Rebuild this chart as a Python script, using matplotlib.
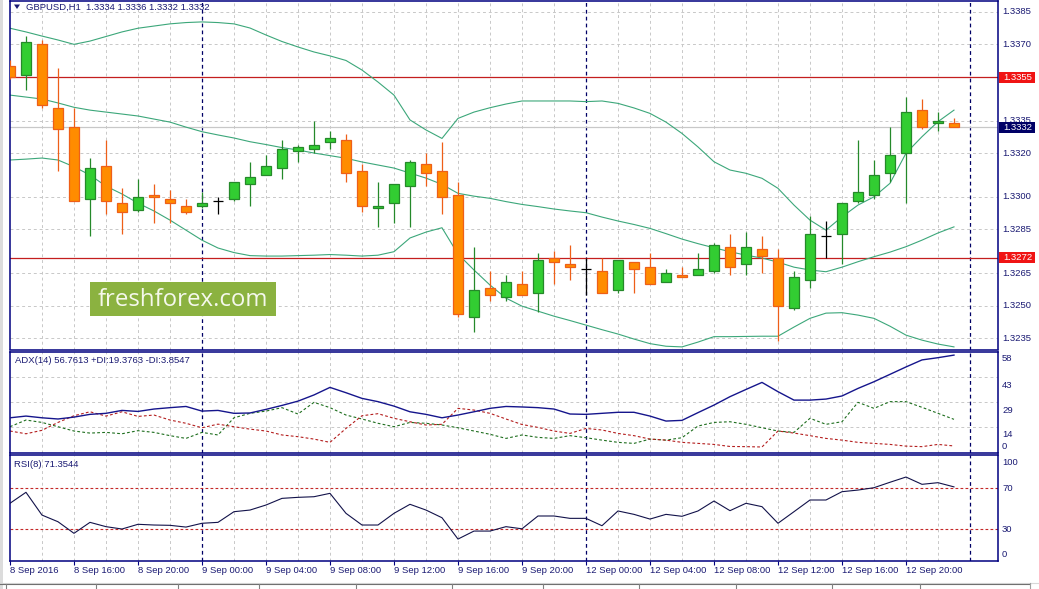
import numpy as np
import matplotlib
matplotlib.use("Agg")
import matplotlib.pyplot as plt
from matplotlib.patches import Rectangle, Polygon
from matplotlib.transforms import IdentityTransform

W, H = 1039, 589

# GBPUSD H1, bars from 8 Sep 12:00 to 12 Sep 23:00
opens = [1.3360, 1.3356, 1.3370, 1.3341, 1.3332, 1.3299, 1.3314, 1.3297, 1.3294, 1.3301,
         1.3299, 1.3296, 1.3296, 1.3298, 1.3299, 1.3306, 1.3310, 1.3313, 1.3321, 1.3322,
         1.3325, 1.3326, 1.3312, 1.3295, 1.3297, 1.3305, 1.3315, 1.3312, 1.3301, 1.3245,
         1.3258, 1.3254, 1.3260, 1.3256, 1.3272, 1.3269, 1.3267, 1.3266, 1.3257, 1.3270,
         1.3268, 1.3261, 1.3264, 1.3264, 1.3266, 1.3277, 1.3269, 1.3276, 1.3272, 1.3249,
         1.3262, 1.3282, 1.3283, 1.3298, 1.3301, 1.3311, 1.3320, 1.3340, 1.3334, 1.3334]
highs = [1.3363, 1.3374, 1.3372, 1.3359, 1.3341, 1.3318, 1.3326, 1.3304, 1.3308, 1.3306,
         1.3303, 1.3299, 1.3302, 1.3300, 1.3307, 1.3316, 1.3319, 1.3326, 1.3324, 1.3335,
         1.3330, 1.3329, 1.3315, 1.3307, 1.3306, 1.3317, 1.3320, 1.3325, 1.3307, 1.3277,
         1.3266, 1.3264, 1.3266, 1.3274, 1.3275, 1.3278, 1.3272, 1.3272, 1.3271, 1.3270,
         1.3274, 1.3267, 1.3268, 1.3274, 1.3279, 1.3283, 1.3284, 1.3282, 1.3276, 1.3266,
         1.3291, 1.3289, 1.3297, 1.3326, 1.3317, 1.3332, 1.3346, 1.3345, 1.3339, 1.3336]
lows = [1.3354, 1.3349, 1.3341, 1.3312, 1.3298, 1.3282, 1.3292, 1.3283, 1.3293, 1.3288,
        1.3288, 1.3292, 1.3295, 1.3292, 1.3298, 1.3296, 1.3310, 1.3308, 1.3316, 1.3320,
        1.3322, 1.3307, 1.3293, 1.3286, 1.3288, 1.3286, 1.3305, 1.3292, 1.3245, 1.3238,
        1.3252, 1.3252, 1.3255, 1.3247, 1.3260, 1.3262, 1.3255, 1.3256, 1.3256, 1.3256,
        1.3260, 1.3261, 1.3263, 1.3264, 1.3265, 1.3264, 1.3264, 1.3265, 1.3234, 1.3248,
        1.3258, 1.3272, 1.3269, 1.3297, 1.3299, 1.3307, 1.3297, 1.3331, 1.3330, 1.3332]
closes = [1.3355, 1.3371, 1.3342, 1.3331, 1.3298, 1.3313, 1.3298, 1.3293, 1.3300, 1.3300,
          1.3297, 1.3293, 1.3297, 1.3298, 1.3307, 1.3309, 1.3314, 1.3322, 1.3323, 1.3324,
          1.3327, 1.3311, 1.3296, 1.3296, 1.3306, 1.3316, 1.3311, 1.3300, 1.3246, 1.3257,
          1.3255, 1.3261, 1.3255, 1.3271, 1.3270, 1.3268, 1.3267, 1.3256, 1.3271, 1.3267,
          1.3260, 1.3265, 1.3263, 1.3267, 1.3278, 1.3268, 1.3277, 1.3273, 1.3250, 1.3263,
          1.3283, 1.3282, 1.3297, 1.3302, 1.3310, 1.3319, 1.3339, 1.3332, 1.3335, 1.3332]

bb_upper = [1.33774, 1.33757, 1.33738, 1.33720, 1.33700, 1.33715, 1.33736, 1.33757, 1.33774, 1.33784,
            1.33794, 1.33800, 1.33803, 1.33800, 1.33794, 1.33775, 1.33743, 1.33713, 1.33688, 1.33665,
            1.33647, 1.33626, 1.33582, 1.33527, 1.33467, 1.33353, 1.33307, 1.33268, 1.33360, 1.33389,
            1.33409, 1.33426, 1.33440, 1.33440, 1.33440, 1.33440, 1.33437, 1.33440, 1.33429, 1.33408,
            1.33383, 1.33343, 1.33291, 1.33229, 1.33161, 1.33123, 1.33108, 1.33085, 1.33039, 1.32962,
            1.32893, 1.32847, 1.32908, 1.32962, 1.33000, 1.33062, 1.33200, 1.33276, 1.33345, 1.33398]
bb_mid = [1.33467, 1.33458, 1.33449, 1.33431, 1.33411, 1.33398, 1.33389, 1.33380, 1.33371, 1.33357,
          1.33343, 1.33320, 1.33299, 1.33284, 1.33270, 1.33253, 1.33240, 1.33226, 1.33215, 1.33201,
          1.33189, 1.33177, 1.33160, 1.33146, 1.33132, 1.33109, 1.33086, 1.33057, 1.33016, 1.33003,
          1.32993, 1.32978, 1.32965, 1.32955, 1.32944, 1.32935, 1.32927, 1.32907, 1.32889, 1.32873,
          1.32855, 1.32831, 1.32806, 1.32785, 1.32766, 1.32748, 1.32732, 1.32719, 1.32700, 1.32677,
          1.32664, 1.32656, 1.32677, 1.32702, 1.32725, 1.32746, 1.32771, 1.32801, 1.32834, 1.32862]
bb_lower = [1.33169, 1.33173, 1.33178, 1.33169, 1.33138, 1.33100, 1.33049, 1.33013, 1.32971, 1.32935,
            1.32893, 1.32847, 1.32801, 1.32765, 1.32744, 1.32730, 1.32728, 1.32728, 1.32730, 1.32732,
            1.32735, 1.32732, 1.32728, 1.32732, 1.32748, 1.32811, 1.32838, 1.32858, 1.32737, 1.32664,
            1.32595, 1.32535, 1.32498, 1.32475, 1.32452, 1.32432, 1.32411, 1.32390, 1.32370, 1.32347,
            1.32326, 1.32314, 1.32311, 1.32333, 1.32358, 1.32358, 1.32359, 1.32360, 1.32360, 1.32402,
            1.32442, 1.32466, 1.32468, 1.32457, 1.32442, 1.32406, 1.32365, 1.32342, 1.32324, 1.32311]

adx = [20.3, 21.3, 20.3, 19.6, 20.7, 22.3, 22.9, 24.6, 24.0, 25.4,
       26.2, 26.9, 24.2, 24.6, 22.9, 23.1, 25.2, 27.5, 30.0, 33.6,
       38.0, 34.9, 31.6, 29.7, 27.1, 23.8, 22.3, 20.3, 21.9, 23.8,
       25.8, 26.9, 26.6, 26.2, 25.4, 22.5, 22.3, 22.9, 23.5, 23.5,
       21.3, 18.4, 18.8, 23.3, 27.7, 32.6, 36.8, 40.9, 35.5, 30.6,
       30.6, 31.2, 33.0, 37.4, 41.3, 45.6, 49.9, 54.0, 55.3, 56.8]
plus_di = [15.1, 19.0, 17.6, 15.1, 12.6, 11.4, 11.8, 11.0, 12.8, 11.8,
           9.9, 8.3, 11.8, 10.3, 20.3, 22.9, 24.2, 26.2, 22.5, 29.3,
           26.2, 21.9, 19.6, 17.1, 15.1, 17.6, 17.1, 16.1, 14.5, 12.6,
           10.7, 8.3, 10.3, 8.9, 8.3, 9.9, 8.7, 7.3, 6.0, 5.4,
           7.9, 7.3, 8.7, 15.5, 17.6, 18.0, 16.5, 14.5, 12.6, 11.8,
           20.0, 16.5, 18.0, 29.3, 25.8, 29.7, 29.7, 26.4, 22.9, 19.4]
minus_di = [12.6, 11.0, 13.0, 17.6, 21.5, 23.8, 21.3, 23.8, 21.1, 21.9,
            19.0, 17.1, 14.5, 16.6, 15.1, 13.7, 12.6, 10.3, 9.3, 7.9,
            6.0, 14.1, 21.5, 22.7, 20.0, 18.0, 16.1, 16.5, 25.8, 24.8,
            22.9, 19.6, 16.4, 14.7, 12.6, 11.2, 14.1, 13.2, 11.2, 9.9,
            7.9, 7.3, 6.0, 5.4, 4.8, 3.6, 3.5, 3.3, 12.6, 11.4,
            9.9, 8.3, 7.3, 6.0, 5.4, 4.8, 3.8, 3.5, 4.8, 3.9]
rsi = [55.4, 66.1, 43.9, 37.4, 26.1, 36.8, 32.6, 30.3, 34.9, 34.2,
       33.9, 32.2, 35.9, 36.8, 47.2, 48.8, 53.7, 60.2, 61.2, 61.8,
       65.1, 45.6, 34.2, 34.2, 45.6, 54.4, 48.8, 41.3, 20.5, 28.3,
       28.3, 32.6, 30.5, 43.0, 43.0, 40.7, 40.7, 33.5, 47.9, 44.6,
       40.0, 44.6, 42.7, 47.9, 57.6, 48.2, 55.4, 52.1, 35.9, 47.2,
       58.6, 58.6, 66.7, 68.3, 70.6, 75.9, 81.0, 73.9, 75.5, 71.4]

price_ticks = [1.3385, 1.3370, 1.3355, 1.3335, 1.3320, 1.3300, 1.3285, 1.3265, 1.3250, 1.3235]
level_lines = [1.3355, 1.3272]
bid = 1.3332
adx_ticks = [58, 43, 29, 14, 0]
adx_grid = [14.7, 29.3, 43.9]
rsi_ticks = [100, 70, 30, 0]
rsi_levels = [70, 30]
separators = [12, 36, 60]
time_pos = list(range(0, 60, 4))
time_labels = ["8 Sep 2016", "8 Sep 16:00", "8 Sep 20:00", "9 Sep 00:00", "9 Sep 04:00",
               "9 Sep 08:00", "9 Sep 12:00", "9 Sep 16:00", "9 Sep 20:00", "12 Sep 00:00",
               "12 Sep 04:00", "12 Sep 08:00", "12 Sep 12:00", "12 Sep 16:00", "12 Sep 20:00"]

plt.rcParams['font.family'] = ['Liberation Sans', 'DejaVu Sans']
FS = 6.8
TXT = '#1A1A73'
NAVY = '#000080'
GRID = '#C8C8C8'
BULL, BULL_EDGE = '#32CD32', '#25892A'
BEAR, BEAR_EDGE = '#FF8C00', '#EE5F18'
BAND = '#3CA77A'

fig = plt.figure(figsize=(W / 100, H / 100), dpi=100)
fig.patch.set_facecolor('white')


def rect(x0, y0, x1, y1):
    return [x0 / W, 1 - y1 / H, (x1 - x0) / W, (y1 - y0) / H]


ax = fig.add_axes(rect(9.5, 1, 997.5, 349.5))
ax_adx = fig.add_axes(rect(9.5, 351.5, 997.5, 453))
ax_rsi = fig.add_axes(rect(9.5, 455, 997.5, 561))

for a in (ax, ax_adx, ax_rsi):
    a.set_xlim(-0.03, 61.72)
    a.set_yticks([])
    a.set_xticks([])
    for s in a.spines.values():
        s.set_color(NAVY)
        s.set_linewidth(1.1)
    for i in range(2, 61, 2):
        if i not in separators:
            a.axvline(i, color=GRID, lw=0.7, ls=(0, (3, 3)), zorder=0)
    for i in separators:
        a.axvline(i, color='#000066', lw=0.9, ls=(0, (3, 2.5)), zorder=1)

ax.set_ylim(1.32299, 1.33899)
ax_adx.set_ylim(-0.2, 58.9)
ax_rsi.set_ylim(-0.9, 102.5)

# main price panel
for v in price_ticks:
    ax.axhline(v, color=GRID, lw=0.7, ls=(0, (3, 3)), zorder=0)
ax.axhline(bid, color='#C8C8C8', lw=0.9, zorder=1)
for v in level_lines:
    ax.axhline(v, color='#C41E1E', lw=0.9, zorder=1.5)

x = np.arange(len(opens))
ax.plot(x, bb_upper, color=BAND, lw=0.8, zorder=2)
ax.plot(x, bb_mid, color=BAND, lw=0.8, zorder=2)
ax.plot(x, bb_lower, color=BAND, lw=0.8, zorder=2)

o, hi, lo, c = map(np.array, (opens, highs, lows, closes))
up = c > o
dn = c < o
dj = c == o
ax.vlines(x[up], lo[up], hi[up], color=BULL_EDGE, lw=0.9, zorder=3)
ax.vlines(x[dn], lo[dn], hi[dn], color=BEAR_EDGE, lw=0.9, zorder=3)
ax.vlines(x[dj], lo[dj], hi[dj], color='black', lw=0.9, zorder=3)
ax.bar(x[up], (c - o)[up], bottom=o[up], width=0.64, color=BULL,
       edgecolor=BULL_EDGE, lw=0.9, zorder=4)
ax.bar(x[dn], (o - c)[dn], bottom=c[dn], width=0.64, color=BEAR,
       edgecolor=BEAR_EDGE, lw=0.9, zorder=4)
ax.hlines(c[dj], x[dj] - 0.33, x[dj] + 0.33, color='black', lw=0.9, zorder=4)


def side_label(a, v, s, dy=0):
    a.annotate(s, xy=(1, v), xycoords=('axes fraction', 'data'),
               xytext=(4.5, dy), textcoords='offset pixels', ha='left', va='center',
               fontsize=FS, color=TXT, annotation_clip=False)


for v in price_ticks:
    side_label(ax, v, f'{v:.4f}')


def price_box(v, fc):
    yd = ax.transData.transform((0, v))[1]
    fig.add_artist(Rectangle((999, yd - 5.5), 36, 11, transform=IdentityTransform(),
                             fc=fc, ec='none', zorder=5))
    fig.text(1003, yd, f'{v:.4f}', transform=IdentityTransform(), ha='left',
             va='center', fontsize=FS, color='white', zorder=6)


for v in level_lines:
    price_box(v, '#F01414')
price_box(bid, '#000066')

# ADX panel
for v in adx_grid:
    ax_adx.axhline(v, color=GRID, lw=0.7, ls=(0, (3, 3)), zorder=0)
ax_adx.plot(x, adx, color='#15158C', lw=1.0, zorder=3)
ax_adx.plot(x, plus_di, color='#1E6E1E', lw=0.8, ls=(0, (2.5, 2)), zorder=2)
ax_adx.plot(x, minus_di, color='#B41E1E', lw=0.8, ls=(0, (2.5, 2)), zorder=2)
adx_dy = {58: -5, 43: -7, 29: -8, 14: -6, 0: 6}
for v in adx_ticks:
    side_label(ax_adx, v, str(v), adx_dy[v])

# RSI panel
for v in rsi_levels:
    ax_rsi.axhline(v, color='#C42828', lw=0.8, ls=(0, (2.5, 2)), zorder=1)
ax_rsi.plot(x, rsi, color='#12124A', lw=0.8, zorder=3)
rsi_dy = {100: -4.5, 70: 0, 30: 0, 0: 5.5}
for v in rsi_ticks:
    side_label(ax_rsi, v, str(v), rsi_dy[v])

ax_rsi.set_xticks(time_pos)
ax_rsi.set_xticklabels(time_labels)
ax_rsi.tick_params(axis='x', length=2.6, width=0.8, color=NAVY, pad=1.3,
                   labelsize=FS, labelcolor=TXT)
for lbl in ax_rsi.get_xticklabels():
    lbl.set_ha('left')

# panel captions
fig.add_artist(Polygon([(14, H - 4.5), (20, H - 4.5), (17, H - 9)], closed=True,
                       transform=IdentityTransform(), fc=TXT, ec='none', zorder=6))
fig.text(26, H - 7.5, 'GBPUSD,H1  1.3334 1.3336 1.3332 1.3332', transform=IdentityTransform(),
         ha='left', va='center', fontsize=FS, color=TXT, zorder=6)
fig.text(15, H - 360.7, 'ADX(14) 56.7613 +DI:19.3763 -DI:3.8547', transform=IdentityTransform(),
         ha='left', va='center', fontsize=FS, color=TXT, zorder=6)
fig.text(14, H - 464.3, 'RSI(8) 71.3544', transform=IdentityTransform(),
         ha='left', va='center', fontsize=FS, color=TXT, zorder=6)

# watermark
fig.add_artist(Rectangle((90, H - 315.7), 186, 33.4, transform=IdentityTransform(),
                         fc='#8BB240', ec='none', zorder=4))
fig.text(183, H - 306.5, 'freshforex.com', transform=IdentityTransform(), ha='center',
         va='baseline', fontsize=17.3, family='Open Sans', color='#F5F8EC', zorder=5)

# window chrome: left strip and tab bar
fig.add_artist(Rectangle((0, 0), 3, H, transform=IdentityTransform(), fc='#DCDCDC', ec='none'))
fig.add_artist(plt.Line2D([0, 1039], [H - 582.7, H - 582.7], transform=IdentityTransform(),
                          color='#D8D8D8', lw=0.8))
fig.add_artist(plt.Line2D([0, 1030], [H - 584, H - 584], transform=IdentityTransform(),
                          color='#707070', lw=0.8))
fig.add_artist(plt.Line2D([1030, 1030], [0, H - 582.7], transform=IdentityTransform(),
                          color='#A0A0A0', lw=0.8))
for xt in [6, 96, 178, 259, 356, 452, 543, 639, 736, 832, 920]:
    fig.add_artist(plt.Line2D([xt, xt], [0, H - 584], transform=IdentityTransform(),
                              color='#808080', lw=0.8))

fig.savefig('out.png', dpi=100, facecolor='white')
